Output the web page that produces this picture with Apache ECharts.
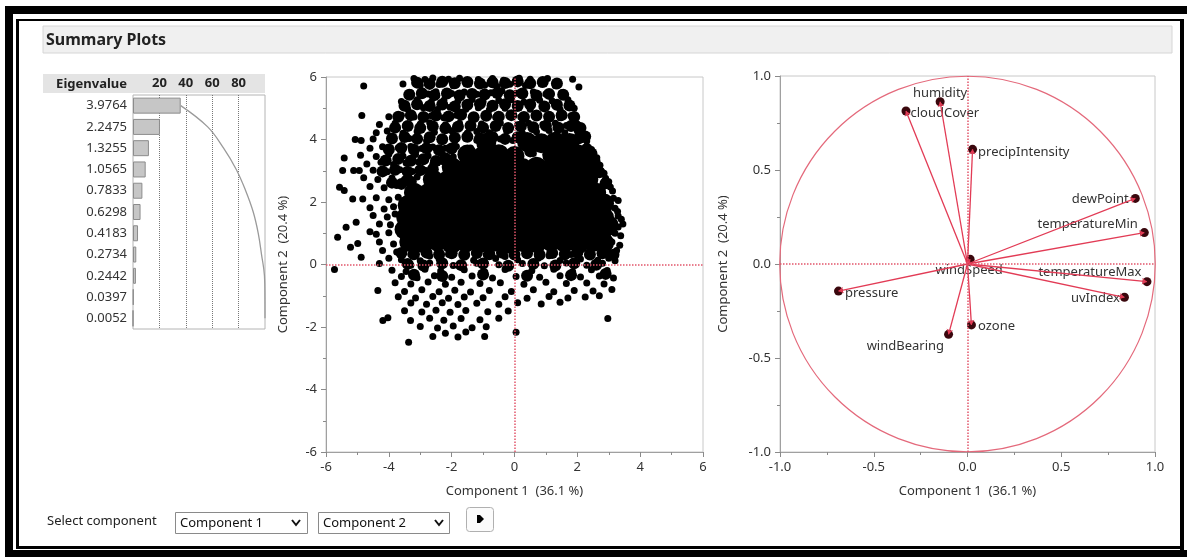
<!DOCTYPE html>
<html>
<head>
<meta charset="utf-8">
<script src="https://cdn.jsdelivr.net/npm/echarts@6/dist/echarts.min.js"></script>
<style>
  html, body { margin: 0; padding: 0; background: #fff; }
  #chart { width: 1187px; height: 557px; }
</style>
</head>
<body>
<div id="chart"></div>
<script>
// eigenvalues (table + bar chart on the left)
const eigenvalues = [3.9764, 2.2475, 1.3255, 1.0565, 0.7833, 0.6298, 0.4183, 0.2734, 0.2442, 0.0397, 0.0052]

// score plot: solid core of the cloud, the dense band around it, and the single dots at the edges
const scoreCore = [
  [-3.35,0.72],[-2.9,0.68],[-2.45,0.74],[-2.0,0.66],[-1.55,0.71],[-1.1,0.69],[-0.65,0.73],[-0.2,0.67],[0.25,0.72],[0.7,0.68],[1.15,0.74],[1.6,0.7],[2.05,0.66],[2.5,0.72],[2.85,0.69],
  [-3.5,1.12],[-3.05,1.08],[-2.6,1.13],[-2.15,1.07],[-1.7,1.11],[-1.25,1.09],[-0.8,1.14],[-0.35,1.06],[0.1,1.1],[0.55,1.13],[1.0,1.08],[1.45,1.12],[1.9,1.07],[2.35,1.11],[2.8,1.09],[3.0,1.25],
  [-3.45,1.52],[-3.0,1.48],[-2.55,1.53],[-2.1,1.47],[-1.65,1.51],[-1.2,1.49],[-0.75,1.54],[-0.3,1.46],[0.15,1.5],[0.6,1.53],[1.05,1.47],[1.5,1.52],[1.95,1.48],[2.4,1.51],[2.85,1.5],
  [-3.4,1.9],[-2.95,1.88],[-2.5,1.93],[-2.05,1.87],[-1.6,1.92],[-1.15,1.89],[-0.7,1.94],[-0.25,1.86],[0.2,1.91],[0.65,1.93],[1.1,1.87],[1.55,1.92],[2.0,1.88],[2.45,1.91],[2.85,1.95],
  [-3.2,2.3],[-2.75,2.28],[-2.3,2.33],[-1.85,2.27],[-1.4,2.31],[-0.95,2.29],[-0.5,2.34],[-0.05,2.26],[0.4,2.31],[0.85,2.33],[1.3,2.27],[1.75,2.32],[2.2,2.28],[2.6,2.3],
  [-2.6,2.72],[-2.15,2.68],[-1.7,2.73],[-1.25,2.67],[-0.8,2.71],[-0.35,2.69],[0.1,2.74],[0.55,2.68],[1.0,2.72],[1.45,2.7],[1.9,2.67],[2.35,2.72],
  [-2.0,3.12],[-1.55,3.08],[-1.1,3.13],[-0.65,3.07],[-0.2,3.11],[0.25,3.09],[0.7,3.13],[1.15,3.08],[1.6,3.12],[2.05,3.1],[2.35,3.2],
  [-1.5,3.52],[-1.0,3.48],[-0.5,3.53],[0.0,3.47],[1.2,3.51],[1.6,3.49],[2.0,3.53],
  [-0.9,3.9],[0.4,3.92],[0.85,3.88],[1.3,3.93],[1.75,3.89]
]
const scoreDense = [
  [-3.1,5.82],[-2.7,5.78],[-2.3,5.85],[-1.9,5.8],[-1.5,5.84],[-1.1,5.79],[-0.7,5.83],[-0.3,5.81],[0.1,5.86],[0.5,5.8],[0.9,5.84],[1.35,5.79],
  [-3.35,5.43],[-2.95,5.48],[-2.55,5.42],[-2.15,5.47],[-1.75,5.41],[-1.35,5.46],[-0.95,5.44],[-0.55,5.49],[-0.15,5.42],[0.25,5.47],[0.7,5.41],[1.1,5.46],[1.55,5.43],
  [-3.5,5.08],[-3.1,5.13],[-2.7,5.07],[-2.3,5.12],[-1.9,5.06],[-1.5,5.11],[-1.1,5.14],[-0.7,5.08],[-0.3,5.13],[0.1,5.07],[0.5,5.12],[0.95,5.06],[1.35,5.11],[1.75,5.09],
  [-3.7,4.73],[-3.3,4.78],[-2.9,4.72],[-2.5,4.77],[-2.1,4.74],[-1.7,4.79],[-1.3,4.71],[-0.9,4.76],[-0.5,4.73],[-0.1,4.78],[0.3,4.72],[0.7,4.77],[1.1,4.73],[1.5,4.78],[1.9,4.72],
  [-3.8,4.38],[-3.4,4.43],[-3.0,4.37],[-2.6,4.42],[-2.2,4.36],[-1.8,4.41],[-1.4,4.44],[-1.0,4.38],[-0.6,4.43],[-0.2,4.37],[0.2,4.42],[0.6,4.39],[1.0,4.44],[1.4,4.38],[1.8,4.43],[2.1,4.37],
  [-3.9,4.03],[-3.5,4.08],[-3.1,4.02],[-2.7,4.07],[-2.3,4.01],[-1.9,4.06],[-1.5,4.09],[-1.1,4.03],[-0.7,4.08],[-0.3,4.02],[0.1,4.07],[2.05,4.04],[2.25,4.1],
  [-4.0,3.68],[-3.6,3.73],[-3.2,3.67],[-2.8,3.72],[-2.4,3.66],[-2.0,3.71],[0.5,3.62],[2.3,3.7],[2.45,3.55],
  [-4.1,3.33],[-3.7,3.38],[-3.3,3.32],[-2.9,3.37],[-2.5,3.31],[-2.2,3.4],[2.55,3.3],
  [-4.2,2.98],[-3.8,3.03],[-3.4,2.97],[-3.0,3.02],[-2.6,3.05],[2.7,2.95],
  [-3.9,2.62],[-3.6,2.58],[-3.3,2.65],[2.9,2.6],
  [-3.6,0.37],[-3.2,0.33],[-2.8,0.38],[-2.4,0.32],[-2.0,0.36],[-1.6,0.31],[-1.2,0.37],[-0.8,0.33],[-0.4,0.38],[0.0,0.32],[0.4,0.36],[0.8,0.31],[1.2,0.37],[1.6,0.33],[2.0,0.38],[2.4,0.32],[2.8,0.36],[3.15,0.31],
  [-3.4,0.02],[-2.9,-0.03],[-2.3,0.04],[-1.7,-0.02],[-1.0,0.03],[-0.2,-0.04],[0.6,0.02],[1.3,-0.03],[1.9,0.04],[2.6,-0.01],
  [-3.2,-0.33],[-2.3,-0.37],[-1.0,-0.32],[0.4,-0.36],[1.8,-0.34],[2.9,-0.3]
]
const scorePoints = [
  [-3.2,5.95],[-2.85,5.92],[-2.6,5.97],[-2.1,5.93],[-1.75,5.96],[-1.15,5.92],[-0.7,5.95],[-0.35,5.9],[0.15,5.96],[0.5,5.93],[1.05,5.95],[1.85,5.93],
  [-4.8,5.71],[-3.55,5.78],[-3.0,5.74],[-2.4,5.76],[-1.95,5.72],[-1.45,5.78],[-0.95,5.74],[-0.55,5.7],[-0.15,5.77],[0.35,5.73],[0.85,5.78],[1.3,5.72],[2.05,5.68],
  [-3.3,5.5],[-2.75,5.46],[-2.5,5.53],[-2.0,5.47],[-1.6,5.52],[-1.2,5.45],[-0.75,5.5],[-0.4,5.55],[0.05,5.48],[0.6,5.52],[1.0,5.46],[1.5,5.5],
  [-3.6,5.22],[-3.1,5.27],[-2.65,5.2],[-2.25,5.26],[-1.8,5.23],[-1.35,5.28],[-1.0,5.21],[-0.5,5.25],[-0.1,5.27],[0.3,5.2],[0.8,5.26],[1.2,5.23],[1.7,5.27],
  [-3.4,4.98],[-2.9,5.02],[-2.45,4.96],[-2.05,5.03],[-1.55,4.97],[-1.15,5.02],[-0.8,4.95],[-0.3,5.0],[0.15,5.04],[0.5,4.97],[1.0,5.02],[1.45,4.96],[1.9,5.0],
  [-4.86,4.77],[-4.0,4.73],[-3.6,4.78],[-3.2,4.72],[-2.65,4.76],[-2.25,4.7],[-1.85,4.78],[-1.35,4.73],[-0.95,4.77],[-0.6,4.71],[-0.15,4.76],[0.2,4.72],[0.7,4.78],[1.15,4.74],[1.45,4.7],[1.8,4.76],
  [-4.3,4.48],[-3.8,4.52],[-3.45,4.46],[-3.0,4.5],[-2.7,4.54],[-2.2,4.47],[-1.75,4.52],[-1.4,4.46],[-1.05,4.5],[-0.45,4.53],[0.1,4.47],[0.45,4.52],[0.9,4.48],[1.3,4.52],[1.65,4.45],[2.0,4.5],
  [-4.4,4.22],[-4.05,4.27],[-3.55,4.2],[-3.1,4.26],[-2.55,4.23],[-2.0,4.28],[-1.5,4.21],[-1.2,4.26],[-0.8,4.22],[-0.25,4.27],[0.25,4.2],[0.7,4.25],[1.1,4.29],[1.6,4.22],[2.0,4.27],[2.2,4.18],
  [-5.07,4.0],[-4.88,3.97],[-4.5,4.02],[-3.9,3.98],[-3.35,4.03],[-2.8,3.96],[-2.35,4.01],[-1.9,3.97],[-1.55,4.03],[-1.2,3.98],[-0.45,4.02],[-0.05,3.97],[2.15,4.0],[2.3,3.95],
  [-4.6,3.72],[-4.2,3.77],[-3.7,3.74],[-3.3,3.78],[-2.95,3.71],[-2.6,3.76],[-2.2,3.72],[-1.85,3.78],[-1.4,3.73],[0.45,3.75],[2.3,3.78],[2.45,3.68],
  [-5.42,3.41],[-4.9,3.5],[-4.4,3.46],[-4.0,3.53],[-3.55,3.47],[-3.15,3.52],[-2.75,3.48],[-2.3,3.53],[-1.95,3.45],[0.6,3.55],[2.5,3.5],[2.62,3.42],
  [-4.7,3.22],[-4.25,3.27],[-3.85,3.2],[-3.45,3.25],[-3.05,3.28],[-2.6,3.21],[-2.3,3.3],[2.55,3.25],[2.72,3.18],
  [-5.47,3.01],[-5.12,3.01],[-4.94,3.01],[-4.5,3.02],[-4.05,2.97],[-3.65,3.03],[-3.25,2.98],[-2.85,3.02],[2.75,3.0],[2.85,2.92],
  [-4.8,2.78],[-4.35,2.72],[-3.9,2.77],[-3.5,2.73],[-3.1,2.8],[2.9,2.76],[3.0,2.65],
  [-5.57,2.47],[-5.42,2.37],[-4.6,2.5],[-4.15,2.46],[-3.75,2.53],[3.05,2.48],[3.12,2.35],
  [-5.15,2.1],[-4.83,2.1],[-4.4,2.14],[-4.0,2.07],[-3.7,2.15],[3.15,2.12],[3.3,2.05],
  [-4.6,1.82],[-4.15,1.78],[-3.85,1.85],[3.2,1.8],[3.28,1.7],
  [-4.5,1.57],[-4.05,1.52],[-3.8,1.62],[3.3,1.55],[3.4,1.45],
  [-5.04,1.35],[-4.3,1.3],[-3.95,1.27],[3.45,1.3],[3.3,1.2],
  [-5.36,1.19],[-4.6,1.05],[-4.4,0.97],[-4.0,1.02],[3.2,1.0],[3.38,0.92],
  [-5.63,0.87],[-4.99,0.67],[-4.3,0.72],[-3.85,0.66],[3.1,0.72],[3.35,0.62],
  [-5.22,0.55],[-4.2,0.45],[-3.75,0.4],[3.25,0.45],[2.95,0.4],
  [-3.3,0.32],[-2.7,0.27],[-2.1,0.33],[-1.6,0.28],[-0.9,0.31],[-0.3,0.26],[0.4,0.33],[1.1,0.28],[1.8,0.32],[2.4,0.27],
  [-4.88,0.23],[-4.0,0.2],[-3.6,0.15],[3.0,0.2],[3.2,0.12],[-3.0,0.12],[-2.4,0.18],[-1.3,0.14],[-0.6,0.19],[0.1,0.15],[0.75,0.2],[1.45,0.13],[2.1,0.18],[2.65,0.14],
  [-4.3,0.03],[-3.3,-0.02],[-2.7,0.05],[-1.95,-0.03],[-1.2,0.04],[-0.5,-0.01],[0.25,0.03],[0.95,-0.04],[1.65,0.05],[2.3,-0.02],[2.8,0.04],
  [-5.73,-0.16],[-3.9,-0.18],[-3.45,-0.22],[-2.85,-0.15],[-2.35,-0.21],[-1.6,-0.17],[-0.95,-0.23],[-0.3,-0.16],[0.55,-0.2],[1.25,-0.15],[1.85,-0.22],[2.45,-0.17],[2.95,-0.19],
  [-3.6,-0.38],[-3.1,-0.42],[-2.55,-0.36],[-2.0,-0.41],[-1.35,-0.37],[-0.7,-0.43],[0.05,-0.38],[0.8,-0.41],[1.45,-0.36],[2.1,-0.4],[2.7,-0.37],[3.15,-0.43],
  [-3.8,-0.58],[-3.3,-0.62],[-2.75,-0.56],[-2.2,-0.63],[-1.7,-0.57],[-1.1,-0.61],[-0.45,-0.58],[0.3,-0.63],[1.0,-0.57],[1.65,-0.61],[2.3,-0.59],[2.85,-0.62],
  [-4.35,-0.83],[-3.5,-0.86],[-2.95,-0.81],[-2.4,-0.87],[-1.9,-0.82],[-1.4,-0.88],[-0.8,-0.83],[-0.1,-0.86],[0.6,-0.81],[1.25,-0.87],[1.9,-0.83],[2.5,-0.85],[3.1,-0.8],
  [-3.7,-1.03],[-3.15,-1.07],[-2.6,-1.02],[-2.1,-1.08],[-1.6,-1.04],[-1.0,-1.06],[-0.3,-1.03],[0.4,-1.08],[1.1,-1.02],[1.7,-1.07],[2.25,-1.04],[2.7,-1.0],
  [-3.3,-1.23],[-2.8,-1.27],[-2.3,-1.22],[-1.8,-1.28],[-1.2,-1.24],[-0.5,-1.27],[0.1,-1.22],[0.85,-1.26],[1.45,-1.21],
  [-3.5,-1.48],[-2.95,-1.52],[-2.5,-1.46],[-2.05,-1.53],[-1.55,-1.47],[-0.85,-1.51],[-0.2,-1.49],
  [-4.03,-1.7],[-4.19,-1.79],[-3.31,-1.79],[-2.7,-1.72],[-2.25,-1.78],[-1.7,-1.73],[-1.1,-1.77],[-0.5,-1.72],[2.97,-1.73],
  [-3.0,-1.98],[-2.45,-2.03],[-1.95,-1.97],[-1.35,-2.02],[-0.9,-1.99],
  [-2.2,-2.2],[-1.55,-2.16],[0.05,-2.17],[-2.6,-2.3],[-1.8,-2.32],[-0.95,-2.3],[-3.37,-2.49]
]

// loading plot
const loadingNames = ['humidity', 'cloudCover', 'precipIntensity', 'dewPoint', 'temperatureMin', 'windSpeed',
  'temperatureMax', 'uvIndex', 'pressure', 'ozone', 'windBearing']
const loadingX = [-0.146, -0.328, 0.027, 0.895, 0.943, 0.014, 0.957, 0.837, -0.688, 0.021, -0.101]
const loadingY = [0.863, 0.814, 0.61, 0.349, 0.167, 0.025, -0.094, -0.177, -0.144, -0.324, -0.374]

const FONT = "'Segoe UI', 'Noto Sans', sans-serif"
const RED = '#e2566b'

// label placement for the loading points
const labelLayout = {
  humidity: {position: 'top', distance: 0, offset: [0, 3]},
  cloudCover: {position: 'right', distance: 0, offset: [0, 2]},
  precipIntensity: {position: 'right', distance: 1, offset: [0, 3]},
  dewPoint: {position: 'left', distance: 2, offset: [0, 1]},
  temperatureMin: {position: 'left', distance: 2, offset: [0, -8]},
  windSpeed: {position: 'bottom', distance: 0, offset: [-1, 0]},
  temperatureMax: {position: 'left', distance: 1, offset: [0, -9]},
  uvIndex: {position: 'left', distance: 0, offset: [0, 1]},
  pressure: {position: 'right', distance: 2, offset: [0, 2]},
  ozone: {position: 'right', distance: 2, offset: [0, 1]},
  windBearing: {position: 'left', distance: 0, offset: [0, 12]}
}

// percent + cumulative percent for the eigenvalue bars
const total = eigenvalues.reduce((a, b) => a + b, 0)
const pct = eigenvalues.map(v => v / total * 100)
let run = 0
const cumPct = pct.map(p => (run += p))

const tickStyle = {show: true, length: 5, lineStyle: {color: '#8a8a8a'}}
const minorStyle = {show: true, splitNumber: 2, length: 3, lineStyle: {color: '#8a8a8a'}}
const labelStyle = {color: '#333', fontSize: 13, fontFamily: FONT}
const nameStyle = {color: '#333', fontSize: 13, fontFamily: FONT}

let option = {
  animation: false,
  backgroundColor: '#fff',
  textStyle: {fontFamily: FONT},
  grid: [
    {left: 133, top: 95, width: 132, height: 234, show: true, borderColor: '#b4b4b4', borderWidth: 1, outerBoundsMode: 'none'},
    {left: 326, top: 77, width: 377, height: 375, show: true, borderColor: '#c8c8c8', borderWidth: 1, outerBoundsMode: 'none'},
    {left: 780, top: 76, width: 375, height: 376, show: true, borderColor: '#c8c8c8', borderWidth: 1, outerBoundsMode: 'none'}
  ],
  xAxis: [
    {
      gridIndex: 0, type: 'value', position: 'top', min: 0, max: 100, interval: 20,
      axisLine: {show: false}, axisTick: {show: false},
      axisLabel: {showMinLabel: false, showMaxLabel: false, margin: 5, color: '#222', fontSize: 13, fontWeight: 'bold', fontFamily: FONT},
      splitLine: {show: true, showMinLine: false, showMaxLine: false, lineStyle: {color: '#777', type: 'dotted', width: 1}}
    },
    {
      gridIndex: 1, type: 'value', min: -6, max: 6, interval: 2,
      axisLine: {show: true, onZero: false, lineStyle: {color: '#a0a0a0'}},
      axisTick: tickStyle, minorTick: minorStyle,
      axisLabel: Object.assign({margin: 9}, labelStyle),
      splitLine: {show: false},
      name: 'Component 1  (36.1 %)', nameLocation: 'middle', nameGap: 33, nameTextStyle: nameStyle
    },
    {
      gridIndex: 2, type: 'value', min: -1, max: 1, interval: 0.5,
      axisLine: {show: true, onZero: false, lineStyle: {color: '#a0a0a0'}},
      axisTick: tickStyle, minorTick: minorStyle,
      axisLabel: Object.assign({margin: 9, formatter: v => v.toFixed(1)}, labelStyle),
      splitLine: {show: false},
      name: 'Component 1  (36.1 %)', nameLocation: 'middle', nameGap: 33, nameTextStyle: nameStyle
    }
  ],
  yAxis: [
    {
      gridIndex: 0, type: 'category', inverse: true,
      data: eigenvalues.map(v => v.toFixed(4)),
      axisLine: {show: false}, axisTick: {show: false},
      axisLabel: Object.assign({margin: 6}, labelStyle)
    },
    {
      gridIndex: 1, type: 'value', min: -6, max: 6, interval: 2,
      axisLine: {show: true, onZero: false, lineStyle: {color: '#a0a0a0'}},
      axisTick: tickStyle, minorTick: minorStyle,
      axisLabel: Object.assign({margin: 9}, labelStyle),
      splitLine: {show: false},
      name: 'Component 2  (20.4 %)', nameLocation: 'middle', nameGap: 36, nameTextStyle: nameStyle
    },
    {
      gridIndex: 2, type: 'value', min: -1, max: 1, interval: 0.5,
      axisLine: {show: true, onZero: false, lineStyle: {color: '#a0a0a0'}},
      axisTick: tickStyle, minorTick: minorStyle,
      axisLabel: Object.assign({margin: 9, formatter: v => v.toFixed(1)}, labelStyle),
      splitLine: {show: false},
      name: 'Component 2  (20.4 %)', nameLocation: 'middle', nameGap: 50, nameTextStyle: nameStyle
    }
  ],
  series: [
    {
      name: 'percent', type: 'bar', xAxisIndex: 0, yAxisIndex: 0,
      data: pct, barWidth: 16,
      itemStyle: {color: '#c6c6c6', borderColor: '#8c8c8c', borderWidth: 1}
    },
    {
      name: 'cumulative', type: 'line', xAxisIndex: 0, yAxisIndex: 0,
      data: cumPct, smooth: 0.4, showSymbol: false, z: 3,
      lineStyle: {color: '#9a9a9a', width: 1.3}
    },
    {
      name: 'scoreCore', type: 'scatter', xAxisIndex: 1, yAxisIndex: 1,
      data: scoreCore, symbolSize: 20, itemStyle: {color: '#000', opacity: 1}
    },
    {
      name: 'scoreDense', type: 'scatter', xAxisIndex: 1, yAxisIndex: 1,
      data: scoreDense, symbolSize: 12, itemStyle: {color: '#000', opacity: 1}
    },
    {
      name: 'scores', type: 'scatter', xAxisIndex: 1, yAxisIndex: 1,
      data: scorePoints, symbolSize: 7, itemStyle: {color: '#000', opacity: 1},
      markLine: {
        silent: true, symbol: ['none', 'none'], label: {show: false},
        lineStyle: {color: RED, type: 'dotted', width: 1.5},
        data: [{xAxis: 0}, {yAxis: 0}]
      }
    },
    {
      name: 'loadingMarkers', type: 'scatter', xAxisIndex: 2, yAxisIndex: 2, z: 2,
      symbolSize: 9,
      itemStyle: {color: '#3a070d', opacity: 1},
      data: loadingNames.map((n, i) => ({
        name: n,
        value: [loadingX[i], loadingY[i]],
        label: Object.assign({show: true, formatter: '{b}', color: '#333', fontSize: 13, fontFamily: FONT}, labelLayout[n])
      })),
      markLine: {
        silent: true, symbol: ['none', 'none'], label: {show: false},
        lineStyle: {color: RED, type: 'dotted', width: 1.5},
        data: [{xAxis: 0}, {yAxis: 0}]
      }
    },
    {
      name: 'loadingRays', type: 'lines', coordinateSystem: 'cartesian2d', xAxisIndex: 2, yAxisIndex: 2, z: 3,
      symbol: ['none', 'arrow'], symbolSize: 5,
      lineStyle: {color: '#e23b55', width: 1.3, opacity: 1},
      data: loadingNames.map((n, i) => ({coords: [[0, 0], [loadingX[i], loadingY[i]]]}))
    }
  ]
}

const chart = echarts.init(document.getElementById('chart'), null, {renderer: 'canvas'})
chart.setOption(option)

// static decorations: window frame, header bars, bottom controls
function box(x, y, w, h, fill) {
  return {type: 'rect', shape: {x: x, y: y, width: w, height: h}, style: {fill: fill}, z: 10}
}
const graphics = [
  box(5, 6, 1182, 8, '#000'),
  box(5, 6, 8, 551, '#000'),
  box(5, 550, 1182, 7, '#000'),
  box(16, 19, 1168, 2, '#000'),
  box(16, 19, 3, 530, '#000'),
  box(16, 546, 1168, 3, '#000'),
  box(1180, 19, 4, 531, '#000'),
  {type: 'rect', shape: {x: 43, y: 26, width: 1129, height: 27}, style: {fill: '#f0f0f0', stroke: '#d6d6d6', lineWidth: 1}, z: -1},
  {type: 'text', x: 46, y: 40, style: {text: 'Summary Plots', fill: '#222', font: 'bold 16px ' + FONT, verticalAlign: 'middle'}, z: 5},
  {type: 'rect', shape: {x: 43, y: 74, width: 222, height: 19}, style: {fill: '#e4e4e4'}, z: -1},
  {type: 'text', x: 127, y: 84, style: {text: 'Eigenvalue', fill: '#222', font: 'bold 13px ' + FONT, align: 'right', verticalAlign: 'middle'}, z: 5},
  {type: 'text', x: 47, y: 521, style: {text: 'Select component', fill: '#222', font: '13px ' + FONT, verticalAlign: 'middle'}, z: 5},
  {type: 'rect', shape: {x: 175.5, y: 512.5, width: 132, height: 21}, style: {fill: '#fff', stroke: '#8a8a8a', lineWidth: 1}, z: 5},
  {type: 'text', x: 180, y: 523, style: {text: 'Component 1', fill: '#111', font: '13px ' + FONT, verticalAlign: 'middle'}, z: 6},
  {type: 'polyline', shape: {points: [[292, 520], [296, 525], [300, 520]]}, style: {stroke: '#111', lineWidth: 2, fill: 'none'}, z: 6},
  {type: 'rect', shape: {x: 318.5, y: 512.5, width: 131, height: 21}, style: {fill: '#fff', stroke: '#8a8a8a', lineWidth: 1}, z: 5},
  {type: 'text', x: 323, y: 523, style: {text: 'Component 2', fill: '#111', font: '13px ' + FONT, verticalAlign: 'middle'}, z: 6},
  {type: 'polyline', shape: {points: [[435, 520], [439, 525], [443, 520]]}, style: {stroke: '#111', lineWidth: 2, fill: 'none'}, z: 6},
  {type: 'rect', shape: {x: 466.5, y: 507.5, width: 27, height: 24, r: 3}, style: {fill: '#fbfbfb', stroke: '#b0b0b0', lineWidth: 1}, z: 5},
  {type: 'polygon', shape: {points: [[477, 515], [480, 515], [484, 519], [480, 523], [477, 523]]}, style: {fill: '#000'}, z: 6}
]

// unit circle of the loading plot, placed through the axis scales
const c0 = chart.convertToPixel({xAxisIndex: 2, yAxisIndex: 2}, [0, 0])
const c1 = chart.convertToPixel({xAxisIndex: 2, yAxisIndex: 2}, [1, 1])
graphics.push({
  type: 'circle',
  shape: {cx: c0[0], cy: c0[1], r: ((c1[0] - c0[0]) + (c0[1] - c1[1])) / 2},
  style: {fill: 'none', stroke: '#e4697b', lineWidth: 1.2},
  z: 1
})

chart.setOption({graphic: graphics})
</script>
</body>
</html>
